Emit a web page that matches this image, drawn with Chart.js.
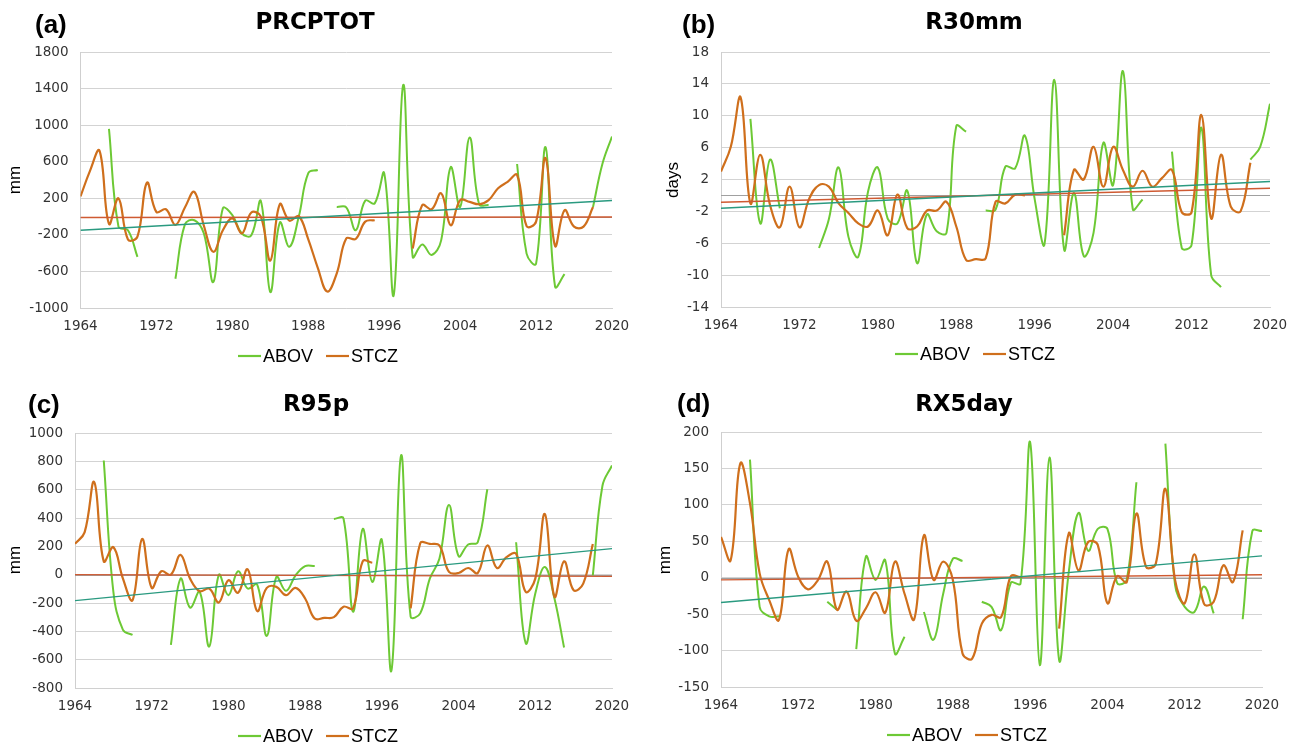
<!DOCTYPE html>
<html><head><meta charset="utf-8">
<script src="https://cdn.jsdelivr.net/npm/chart.js@4.4.0/dist/chart.umd.min.js"></script>
<style>
html,body{margin:0;padding:0;background:#fff;}
body{width:1299px;height:745px;position:relative;overflow:hidden;}
canvas{position:absolute;}
</style></head><body>
<canvas id="ca" width="645" height="375" style="left:0;top:0"></canvas>
<canvas id="cb" width="649" height="375" style="left:650px;top:0"></canvas>
<canvas id="cc" width="645" height="370" style="left:0;top:375px"></canvas>
<canvas id="cd" width="649" height="370" style="left:650px;top:375px"></canvas>
<script>
// ---------- DATA ----------
const years = [1964,1965,1966,1967,1968,1969,1970,1971,1972,1973,1974,1975,1976,1977,1978,1979,1980,1981,1982,1983,1984,1985,1986,1987,1988,1989,1990,1991,1992,1993,1994,1995,1996,1997,1998,1999,2000,2001,2002,2003,2004,2005,2006,2007,2008,2009,2010,2011,2012,2013,2014,2015,2016,2017,2018,2019,2020];
const xTickLabels = [1964,1972,1980,1988,1996,2004,2012,2020];
const trendYears = [1964,2020];

// (a) PRCPTOT
const prcptotAbov = [null,null,null,960,-110,-150,-440,null,null,null,
  -680,-85,-40,-185,-715,90,15,-185,-205,170,
  -825,-65,-330,0,475,510,null,105,100,-150,
  175,145,475,-860,1440,-440,-305,-420,-260,540,
  105,865,135,125,null,null,575,-405,-515,760,
  -765,-630,null,null,105,580,875];
const prcptotStcz = [220,500,720,-80,200,-250,-220,370,50,80,
  -90,100,270,-100,-385,-150,-20,-185,45,0,
  -480,135,-45,5,-250,-560,-820,-620,-240,-245,
  -55,-40,null,null,null,-350,125,80,255,-95,
  180,160,135,180,310,380,455,-105,-55,640,
  -320,70,-110,-110,105,null,null];
const prcptotTrendAbov = [-150,175];
const prcptotTrendStcz = [-10,-5];
const prcptotYTicks = [-1000,-600,-200,200,600,1000,1400,1800];

// (b) R30mm
const r30Abov = [null,null,null,9.6,-3.5,4.5,-1.6,null,null,null,
  -6.6,-3.0,3.5,-5.2,-7.7,0.5,3.5,-2.9,-3.5,0.6,
  -8.5,-2.4,-4.5,-4.7,8.7,8.0,null,-1.9,-1.8,3.6,
  3.4,7.5,-0.5,-6.1,14.5,-6.8,0.3,-7.6,-4.7,6.6,
  1.3,15.6,-1.7,-0.5,null,null,5.5,-6.6,-6.2,8.5,
  -10,-11.5,null,null,4.5,6.1,11.5];
const r30Stcz = [3.0,6.1,12.3,-1.0,5.1,-1.2,-4.0,1.1,-4.0,-0.4,
  1.3,1.1,-1.0,-2.2,-3.5,-3.9,-1.9,-5.0,0.1,-4.1,
  -3.9,-1.9,-1.9,-0.8,-3.9,-8.1,-8.0,-7.9,-0.8,-1.0,
  0.1,0,null,null,null,-5.0,3.2,2.0,6.1,1.1,
  6.1,3.2,1.1,3.1,1.1,2.2,3.2,-2.1,-2.1,10.1,
  -2.9,5.1,-1.4,-2.0,4.1,null,null];
const r30TrendAbov = [-1.6,1.75];
const r30TrendStcz = [-0.85,0.9];
const r30YTicks = [-14,-10,-6,-2,2,6,10,14,18];

// (c) R95p
const r95Abov = [null,null,null,806,-120,-390,-425,null,null,null,
  -495,-28,-233,-121,-507,-2,-145,24,-98,-70,
  -432,-16,-114,-5,61,61,null,393,397,-261,
  322,-51,245,-677,841,-296,-273,-28,112,491,
  131,213,229,603,null,null,229,-483,-133,54,
  -168,-514,null,null,-5,626,771];
const r95Stcz = [218,299,654,94,194,-28,-180,252,-93,24,
  0,140,-28,-117,-98,-196,-40,-128,38,-257,
  -93,-86,-145,-93,-168,-310,-305,-300,-226,-238,
  94,84,null,null,null,-238,222,217,206,19,
  12,47,12,206,47,124,147,-121,-28,428,
  -156,94,-110,-63,217,null,null];
const r95TrendAbov = [-183,184];
const r95TrendStcz = [0,-12];
const r95YTicks = [-800,-600,-400,-200,0,200,400,600,800,1000];

// (d) RX5day
const rx5Abov = [null,null,null,162,-40,-53,-53,null,null,null,
  null,-33,-44,null,-98,29,-3,24,-104,-81,
  null,-47,-85,-22,26,23,null,-33,-40,-72,
  -7,-8,186,-120,165,-113,8,89,37,67,
  67,-7,-3,131,null,null,184,-10,-40,-47,
  -12,-49,null,null,-57,64,64];
const rx5Stcz = [56,24,157,102,6,-31,-58,39,1,-16,
  -4,22,-44,-19,-59,-42,-20,-48,22,-22,
  -57,58,-3,22,-3,-104,-111,-63,-51,-54,
  2,1,null,null,null,-70,61,10,49,45,
  -35,2,-6,88,15,19,122,-3,-35,32,
  -36,-33,17,-6,65,null,null];
const rx5TrendAbov = [-34,30];
const rx5TrendStcz = [-3,4];
const rx5YTicks = [-150,-100,-50,0,50,100,150,200];

const seriesNames = ['ABOV','STCZ'];

// ---------- STYLE / LAYOUT ----------
const GREEN = '#6dc935', ORANGE = '#cf6f1c', TEAL = '#2a9a80', RED = '#cf5a32';
const panels = [
  {id:'ca', letter:'(a)', title:'PRCPTOT', yTitle:'mm', abov:prcptotAbov, stcz:prcptotStcz, tA:prcptotTrendAbov, tS:prcptotTrendStcz, yt:prcptotYTicks,
   W:645,H:375, L:80.5,R:612,T:52,B:308, lx:35,ly:26, tx:315,ty:23, yx:15,yy:180, gx:318,gy:356},
  {id:'cb', letter:'(b)', title:'R30mm', yTitle:'days', abov:r30Abov, stcz:r30Stcz, tA:r30TrendAbov, tS:r30TrendStcz, yt:r30YTicks,
   W:649,H:375, L:71,R:620,T:52,B:307, lx:32,ly:26, tx:324,ty:23, yx:23,yy:180, gx:325,gy:354},
  {id:'cc', letter:'(c)', title:'R95p', yTitle:'mm', abov:r95Abov, stcz:r95Stcz, tA:r95TrendAbov, tS:r95TrendStcz, yt:r95YTicks,
   W:645,H:370, L:75,R:612,T:58,B:313, lx:28,ly:31, tx:316,ty:30, yx:15,yy:185, gx:318,gy:361},
  {id:'cd', letter:'(d)', title:'RX5day', yTitle:'mm', abov:rx5Abov, stcz:rx5Stcz, tA:rx5TrendAbov, tS:rx5TrendStcz, yt:rx5YTicks,
   W:649,H:370, L:71,R:612,T:57,B:312, lx:27,ly:30, tx:314,ty:30, yx:15,yy:185, gx:317,gy:360}
];

const overlay = {
  id:'overlay',
  beforeDatasetsDraw(chart, args, o){
    const ys = chart.scales.y, a = chart.chartArea, ctx = chart.ctx;
    const p = Math.round(ys.getPixelForValue(0)) + 0.5;
    ctx.save();
    ctx.strokeStyle = '#a0a0a0'; ctx.lineWidth = 1;
    ctx.beginPath(); ctx.moveTo(a.left, p); ctx.lineTo(a.right, p); ctx.stroke();
    ctx.restore();
  },
  afterDraw(chart, args, o){
    const ctx = chart.ctx;
    ctx.save();
    ctx.fillStyle = '#000';
    ctx.textBaseline = 'middle';
    ctx.textAlign = 'left';
    ctx.font = 'bold 26px "Liberation Sans"';
    ctx.fillText(o.letter, o.lx, o.ly);
    ctx.textAlign = 'center';
    ctx.font = 'bold 23px "DejaVu Sans"';
    ctx.fillText(o.title, o.tx, o.ty);
    ctx.save();
    ctx.translate(o.yx, o.yy); ctx.rotate(-Math.PI/2);
    ctx.font = '17px "Liberation Sans"';
    ctx.fillText(o.yTitle, 0, 0);
    ctx.restore();
    // legend
    ctx.font = '18px "Liberation Sans"';
    const items = chart.data.datasets.filter(d => d.inLegend);
    const lineW = 23, gap = 2, itemGap = 13;
    const widths = items.map(d => lineW + gap + ctx.measureText(d.label).width);
    const total = widths.reduce((s,w)=>s+w,0) + itemGap*(items.length-1);
    let x = o.gx - total/2;
    items.forEach((d,i) => {
      ctx.strokeStyle = d.borderColor; ctx.lineWidth = 2.2;
      ctx.beginPath(); ctx.moveTo(x, o.gy); ctx.lineTo(x+lineW, o.gy); ctx.stroke();
      ctx.textAlign = 'left'; ctx.fillStyle = '#000';
      ctx.fillText(d.label, x+lineW+gap, o.gy+1);
      x += widths[i] + itemGap;
    });
    ctx.restore();
  }
};

function pts(xs, vs){ return xs.map((x,i)=>({x:x, y:vs[i]})); }

panels.forEach(p => {
  const ctx = document.getElementById(p.id).getContext('2d');
  new Chart(ctx, {
    type:'line',
    data:{ datasets:[
      {label:seriesNames[0], inLegend:true, data:pts(years,p.abov), borderColor:GREEN, borderWidth:2, pointRadius:0, tension:0.4, order:2},
      {label:seriesNames[1], inLegend:true, data:pts(years,p.stcz), borderColor:ORANGE, borderWidth:2.2, pointRadius:0, tension:0.4, order:1},
      {label:seriesNames[0]+' trend', data:pts(trendYears,p.tA), borderColor:TEAL, borderWidth:1.4, pointRadius:0, tension:0, order:0},
      {label:seriesNames[1]+' trend', data:pts(trendYears,p.tS), borderColor:RED, borderWidth:1.4, pointRadius:0, tension:0, order:0}
    ]},
    options:{
      responsive:false, animation:false, events:[],
      layout:{padding:{left:0, right:p.W-p.R, top:p.T, bottom:p.H-p.B-32}},
      plugins:{ legend:{display:false}, title:{display:false}, tooltip:{enabled:false},
        overlay:{letter:p.letter,title:p.title,yTitle:p.yTitle,lx:p.lx,ly:p.ly,tx:p.tx,ty:p.ty,yx:p.yx,yy:p.yy,gx:p.gx,gy:p.gy} },
      scales:{
        x:{ type:'linear', min:xTickLabels[0], max:xTickLabels[xTickLabels.length-1],
            afterBuildTicks: s => { s.ticks = xTickLabels.map(v=>({value:v})); },
            afterFit: s => { s.height = 32; },
            grid:{display:false, drawTicks:false},
            border:{display:true, color:'#d0d0d0'},
            ticks:{ padding:10, color:'#333333', font:{family:'"DejaVu Sans"', size:13.5}, callback:v=>String(v), maxRotation:0 } },
        y:{ type:'linear', min:p.yt[0], max:p.yt[p.yt.length-1],
            afterBuildTicks: s => { s.ticks = p.yt.map(v=>({value:v})); },
            afterFit: s => { s.width = p.L; },
            grid:{color:'#d3d3d3', drawTicks:false},
            border:{display:true, color:'#cfcfcf'},
            ticks:{ padding:12, color:'#333333', font:{family:'"DejaVu Sans"', size:13.5}, callback:v=>String(v) } }
      }
    },
    plugins:[overlay]
  });
});
</script>
</body></html>
